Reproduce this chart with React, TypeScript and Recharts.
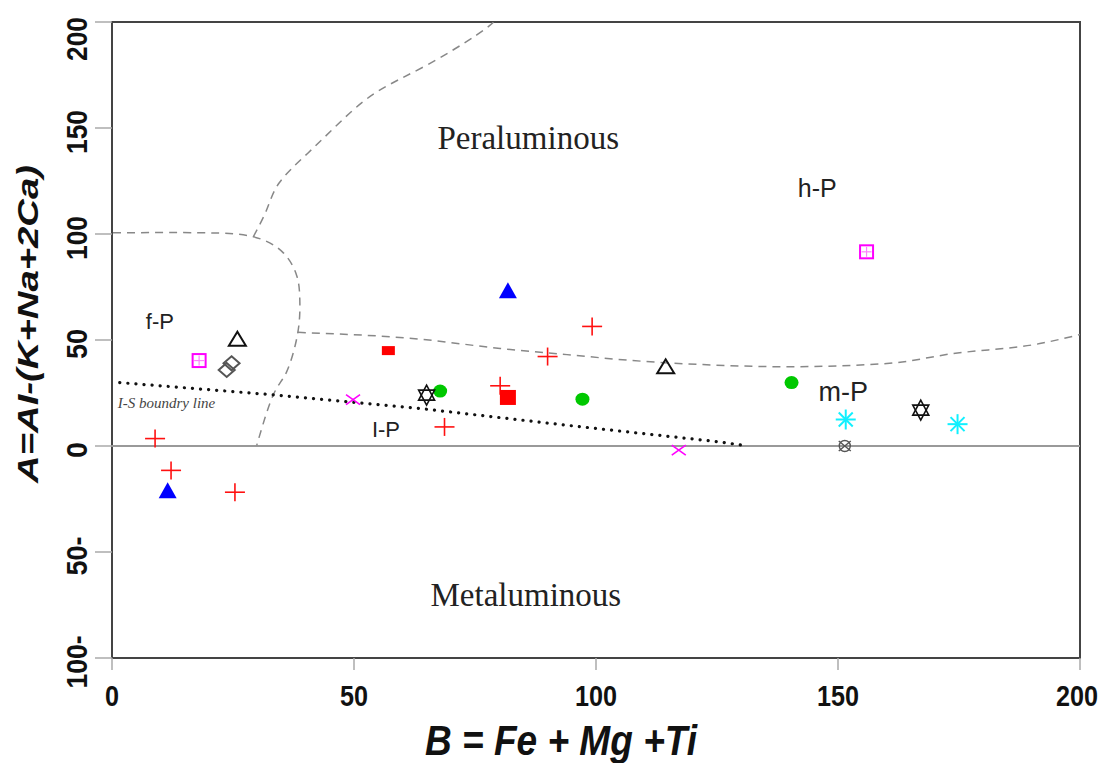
import React from 'react';
import { ScatterChart, Scatter, XAxis, YAxis, ReferenceLine, ReferenceArea } from 'recharts';

// ---------- axes ----------
const xTicks = [0, 50, 100, 150, 200];
const yTicks = [-100, -50, 0, 50, 100, 150, 200];
const yTickText: Record<number, string> = { '-100': '100-', '-50': '50-', 0: '0', 50: '50', 100: '100', 150: '150', 200: '200' } as any;
const xTitle = 'B = Fe + Mg +Ti';
const yTitle = 'A=AI-(K+Na+2Ca)';

// ---------- sample points ----------
const redPlus = [
  { x: 8.9, y: 3.5 }, { x: 12.2, y: -11.5 }, { x: 25.4, y: -21.8 }, { x: 68.7, y: 9.0 },
  { x: 80.2, y: 28.4 }, { x: 90.0, y: 42.2 }, { x: 99.2, y: 56.4 },
];
const blueTriangle = [{ x: 11.5, y: -21.3 }, { x: 81.8, y: 73.0 }];
const openTriangle = [{ x: 25.9, y: 50.1 }, { x: 114.4, y: 37.1 }];
const magentaSquare = [{ x: 18.0, y: 40.3 }, { x: 155.9, y: 91.6 }];
const grayDiamond = [{ x: 24.7, y: 39.0 }, { x: 23.7, y: 35.9 }];
const redRect = [{ x: 57.1, y: 45.0 }];
const redSquare = [{ x: 81.8, y: 22.9 }];
const greenCircle = [{ x: 67.8, y: 25.9 }, { x: 97.2, y: 22.1 }, { x: 140.4, y: 29.9 }];
const hexagram = [{ x: 65.0, y: 24.0 }, { x: 167.1, y: 16.9 }];
const magentaX = [{ x: 49.8, y: 21.9 }, { x: 117.1, y: -1.9 }];
const cyanAsterisk = [{ x: 151.6, y: 12.5 }, { x: 174.7, y: 10.3 }];
const grayCircleX = [{ x: 151.4, y: 0 }];

// ---------- field boundaries ----------
const boundaryFP = [
  { x: 0.2, y: 100.6 }, { x: 18.2, y: 100.6 }, { x: 29.2, y: 98.7 }, { x: 35.4, y: 91.1 },
  { x: 38.2, y: 80.1 }, { x: 38.8, y: 69.2 }, { x: 38.4, y: 53.6 }, { x: 36.1, y: 35.1 },
  { x: 33.3, y: 24.0 }, { x: 29.9, y: 0.3 },
];
const boundaryPeral = [
  { x: 29.2, y: 98.7 }, { x: 32.0, y: 111.7 }, { x: 34.6, y: 124.3 }, { x: 40.4, y: 138.0 },
  { x: 47.1, y: 152.7 }, { x: 54.7, y: 167.0 }, { x: 65.0, y: 179.6 }, { x: 75.3, y: 193.8 },
  { x: 78.8, y: 199.9 },
];
const boundaryMP = [
  { x: 38.4, y: 53.6 }, { x: 63.6, y: 50.4 }, { x: 80.2, y: 46.0 }, { x: 94.0, y: 43.1 },
  { x: 107.6, y: 40.3 }, { x: 122.1, y: 38.4 }, { x: 139.5, y: 37.4 }, { x: 160.1, y: 38.9 },
  { x: 173.8, y: 43.6 }, { x: 191.7, y: 48.3 }, { x: 200, y: 52.6 },
];
const isLine = [
  { x: 1.6, y: 29.9 }, { x: 32.4, y: 24.3 }, { x: 63.6, y: 17.7 }, { x: 93.9, y: 9.8 },
  { x: 125.6, y: 1.9 }, { x: 131.4, y: 0 },
];

// ---------- annotations (data coordinates) ----------
const annotations = [
  { x: 86.0, y: 145.5, text: 'Peraluminous' },
  { x: 85.5, y: -70.1, text: 'Metaluminous' },
  { x: 145.7, y: 121.8, text: 'h-P' },
  { x: 9.9, y: 58.8, text: 'f-P' },
  { x: 151.1, y: 25.6, text: 'm-P' },
  { x: 56.6, y: 8.1, text: 'I-P' },
  { x: 1.2, y: 20.4, text: 'I-S boundry line' },
];

const annStyle: Record<string, any> = {
  Peraluminous: { fontFamily: "'Liberation Serif', serif", fontSize: 33, fill: '#222', anchor: 'middle' },
  Metaluminous: { fontFamily: "'Liberation Serif', serif", fontSize: 33, fill: '#222', anchor: 'middle' },
  'h-P': { fontFamily: "'Liberation Sans', Arial, sans-serif", fontSize: 25, fill: '#222', anchor: 'middle' },
  'f-P': { fontFamily: "'Liberation Sans', Arial, sans-serif", fontSize: 22, fill: '#222', anchor: 'middle' },
  'm-P': { fontFamily: "'Liberation Sans', Arial, sans-serif", fontSize: 27, fill: '#222', anchor: 'middle' },
  'I-P': { fontFamily: "'Liberation Sans', Arial, sans-serif", fontSize: 22, fill: '#222', anchor: 'middle' },
  'I-S boundry line': { fontFamily: "'Liberation Serif', serif", fontSize: 15, fill: '#444', anchor: 'start', italic: true },
};

// ---------- shapes ----------
const PlusShape = (p: any) => (
  <g stroke="#ff1010" strokeWidth={1.6}>
    <line x1={p.cx - 10} y1={p.cy} x2={p.cx + 10} y2={p.cy} />
    <line x1={p.cx} y1={p.cy - 9} x2={p.cx} y2={p.cy + 9} />
  </g>
);
const BlueTri = (p: any) => (
  <polygon points={`${p.cx},${p.cy - 9} ${p.cx - 9},${p.cy + 7} ${p.cx + 9},${p.cy + 7}`} fill="#0000ff" />
);
const OpenTri = (p: any) => (
  <polygon points={`${p.cx},${p.cy - 8} ${p.cx - 8.5},${p.cy + 6} ${p.cx + 8.5},${p.cy + 6}`} fill="none" stroke="#111" strokeWidth={2} />
);
const MagSq = (p: any) => (
  <g>
    <rect x={p.cx - 6.5} y={p.cy - 6.5} width={13} height={13} fill="#fff" stroke="#ff00ff" strokeWidth={2} />
    <line x1={p.cx - 5} y1={p.cy} x2={p.cx + 5} y2={p.cy} stroke="#ff80ff" strokeWidth={1.2} />
    <line x1={p.cx} y1={p.cy - 5} x2={p.cx} y2={p.cy + 5} stroke="#ff80ff" strokeWidth={1.2} />
  </g>
);
const Diamond = (p: any) => (
  <polygon points={`${p.cx},${p.cy - 7} ${p.cx + 8},${p.cy} ${p.cx},${p.cy + 7} ${p.cx - 8},${p.cy}`} fill="none" stroke="#555" strokeWidth={2} />
);
const RedRect = (p: any) => <rect x={p.cx - 6.5} y={p.cy - 4.5} width={13} height={9} fill="#ff0000" />;
const RedSquare = (p: any) => <rect x={p.cx - 8} y={p.cy - 7.5} width={16} height={15} fill="#ff0000" />;
const GreenDot = (p: any) => <ellipse cx={p.cx} cy={p.cy} rx={7} ry={6.5} fill="#00c800" />;
const Hexagram = (p: any) => (
  <g fill="none" stroke="#111" strokeWidth={1.6}>
    <polygon points={`${p.cx},${p.cy - 10} ${p.cx - 8},${p.cy + 5} ${p.cx + 8},${p.cy + 5}`} />
    <polygon points={`${p.cx},${p.cy + 10} ${p.cx - 8},${p.cy - 5} ${p.cx + 8},${p.cy - 5}`} />
  </g>
);
const MagX = (p: any) => (
  <g stroke="#ff00ff" strokeWidth={1.6}>
    <line x1={p.cx - 7} y1={p.cy - 5} x2={p.cx + 7} y2={p.cy + 5} />
    <line x1={p.cx - 7} y1={p.cy + 5} x2={p.cx + 7} y2={p.cy - 5} />
  </g>
);
const Asterisk = (p: any) => (
  <g stroke="#10f0ff" strokeWidth={2}>
    <line x1={p.cx - 10} y1={p.cy} x2={p.cx + 10} y2={p.cy} />
    <line x1={p.cx} y1={p.cy - 10} x2={p.cx} y2={p.cy + 10} />
    <line x1={p.cx - 7} y1={p.cy - 7} x2={p.cx + 7} y2={p.cy + 7} />
    <line x1={p.cx - 7} y1={p.cy + 7} x2={p.cx + 7} y2={p.cy - 7} />
  </g>
);
const CircleX = (p: any) => (
  <g fill="none" stroke="#555" strokeWidth={1.4}>
    <circle cx={p.cx} cy={p.cy} r={5.5} />
    <line x1={p.cx - 6} y1={p.cy - 5} x2={p.cx + 6} y2={p.cy + 5} />
    <line x1={p.cx - 6} y1={p.cy + 5} x2={p.cx + 6} y2={p.cy - 5} />
  </g>
);
const NoShape = () => <g />;

const AnnotationShape = (p: any) => {
  const t = p.payload?.text ?? '';
  const s = annStyle[t] || {};
  return (
    <text
      x={p.cx}
      y={p.cy}
      dy="0.35em"
      textAnchor={s.anchor}
      fontFamily={s.fontFamily}
      fontSize={s.fontSize}
      fontStyle={s.italic ? 'italic' : 'normal'}
      fill={s.fill}
    >
      {t}
    </text>
  );
};

const tickFont = "'Liberation Sans', Arial, sans-serif";
const labelWidth = (s: string) => s.split('').reduce((a, c) => a + (c === '-' ? 9 : 14), 0);

const XTick = (p: any) => {
  const v = p.payload.value;
  const s = String(v);
  const cx = v === 200 ? p.x - 3 : p.x;
  return (
    <g transform={`translate(${cx}, 706) scale(0.84, 1)`}>
      <text x={0} y={0} textAnchor="middle" fontFamily={tickFont} fontWeight="bold" fontSize={30} fill="#111">
        {s}
      </text>
    </g>
  );
};
const YTick = (p: any) => {
  const v = p.payload.value;
  const s = yTickText[v] ?? String(v);
  const bx = 87;
  const cy = v === 200 ? p.y + 17 : p.y + 4;
  return (
    <text x={bx} y={cy} transform={`rotate(-90, ${bx}, ${cy})`} textAnchor="middle" fontFamily={tickFont}
      fontWeight="bold" fontSize={30} fill="#111" textLength={labelWidth(s) + 2} lengthAdjust="spacingAndGlyphs">
      {s}
    </text>
  );
};

const XTitle = () => (
  <text x={561} y={755} textAnchor="middle" fontFamily={tickFont} fontWeight="bold" fontStyle="italic"
    fontSize={42} fill="#111" textLength={272} lengthAdjust="spacingAndGlyphs">
    {xTitle}
  </text>
);
const YTitle = () => (
  <text x={38} y={324} transform="rotate(-90, 38, 324)" textAnchor="middle" fontFamily={tickFont}
    fontWeight="bold" fontStyle="italic" fontSize={30} fill="#111" textLength={318} lengthAdjust="spacingAndGlyphs">
    {yTitle}
  </text>
);

const dashed = { stroke: '#888', strokeWidth: 1.5, strokeDasharray: '8 6', fill: 'none' };
const dotted = { stroke: '#111', strokeWidth: 3.2, strokeDasharray: '0.1 8', strokeLinecap: 'round', fill: 'none' };

export default function App() {
  return (
    <div style={{ position: 'absolute', left: 0, top: 0, background: '#fff' }}>
      <ScatterChart width={1100} height={763} margin={{ top: 22, right: 20, bottom: 0, left: 0 }}>
        <XAxis
          type="number"
          dataKey="x"
          domain={[0, 200]}
          ticks={xTicks}
          allowDataOverflow
          axisLine={false}
          tickLine={{ stroke: '#aaa', strokeWidth: 1.5 }}
          tickSize={12}
          tick={XTick}
          height={105}
          label={XTitle}
        />
        <YAxis
          type="number"
          dataKey="y"
          domain={[-100, 200]}
          ticks={yTicks}
          allowDataOverflow
          axisLine={false}
          tickLine={{ stroke: '#aaa', strokeWidth: 1.5 }}
          tickSize={17}
          tick={YTick}
          width={112}
          label={YTitle}
        />
        <ReferenceLine y={0} stroke="#999" strokeWidth={2} />
        <Scatter data={boundaryFP} line={dashed as any} lineJointType="natural" shape={NoShape} isAnimationActive={false} />
        <Scatter data={boundaryPeral} line={dashed as any} lineJointType="natural" shape={NoShape} isAnimationActive={false} />
        <Scatter data={boundaryMP} line={dashed as any} lineJointType="monotoneX" shape={NoShape} isAnimationActive={false} />
        <Scatter data={isLine} line={dotted as any} lineJointType="linear" shape={NoShape} isAnimationActive={false} />
        <ReferenceArea x1={0} x2={200} y1={-100} y2={200} fill="none" stroke="#444" strokeWidth={2} ifOverflow="visible" />
        <Scatter data={annotations} shape={AnnotationShape} isAnimationActive={false} />
        <Scatter data={grayCircleX} shape={CircleX} isAnimationActive={false} />
        <Scatter data={redPlus} shape={PlusShape} isAnimationActive={false} />
        <Scatter data={blueTriangle} shape={BlueTri} isAnimationActive={false} />
        <Scatter data={openTriangle} shape={OpenTri} isAnimationActive={false} />
        <Scatter data={magentaSquare} shape={MagSq} isAnimationActive={false} />
        <Scatter data={grayDiamond} shape={Diamond} isAnimationActive={false} />
        <Scatter data={redRect} shape={RedRect} isAnimationActive={false} />
        <Scatter data={redSquare} shape={RedSquare} isAnimationActive={false} />
        <Scatter data={greenCircle} shape={GreenDot} isAnimationActive={false} />
        <Scatter data={hexagram} shape={Hexagram} isAnimationActive={false} />
        <Scatter data={magentaX} shape={MagX} isAnimationActive={false} />
        <Scatter data={cyanAsterisk} shape={Asterisk} isAnimationActive={false} />
      </ScatterChart>
    </div>
  );
}
